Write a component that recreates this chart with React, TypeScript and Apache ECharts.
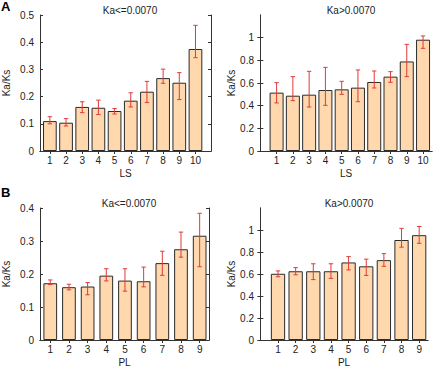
import React, { useEffect, useRef } from "react";
import * as echarts from "echarts";

// Panel A: LS, Ka<=0.0070
const lsCats = [1, 2, 3, 4, 5, 6, 7, 8, 9, 10];
const aLowMean = [0.110, 0.104, 0.162, 0.159, 0.147, 0.185, 0.218, 0.268, 0.251, 0.375];
const aLowErrHi = [0.126, 0.119, 0.181, 0.187, 0.156, 0.214, 0.256, 0.301, 0.288, 0.462];
const aLowErrLo = [0.100, 0.092, 0.141, 0.134, 0.136, 0.162, 0.178, 0.249, 0.189, 0.343];
// Panel A: LS, Ka>0.0070
const aHighMean = [0.515, 0.488, 0.497, 0.538, 0.544, 0.559, 0.609, 0.656, 0.790, 0.982];
const aHighErrHi = [0.603, 0.656, 0.703, 0.738, 0.615, 0.715, 0.706, 0.700, 0.941, 1.015];
const aHighErrLo = [0.424, 0.444, 0.388, 0.403, 0.500, 0.435, 0.556, 0.606, 0.656, 0.906];
// Panel B: PL, Ka<=0.0070
const plCats = [1, 2, 3, 4, 5, 6, 7, 8, 9];
const bLowMean = [0.172, 0.160, 0.162, 0.195, 0.180, 0.178, 0.233, 0.275, 0.316];
const bLowErrHi = [0.182, 0.169, 0.174, 0.216, 0.216, 0.221, 0.269, 0.327, 0.384];
const bLowErrLo = [0.168, 0.152, 0.137, 0.179, 0.148, 0.161, 0.196, 0.251, 0.222];
// Panel B: PL, Ka>0.0070
const bHighMean = [0.602, 0.625, 0.625, 0.625, 0.705, 0.670, 0.726, 0.909, 0.953];
const bHighErrHi = [0.628, 0.658, 0.693, 0.693, 0.758, 0.735, 0.785, 1.015, 1.032];
const bHighErrLo = [0.575, 0.593, 0.549, 0.560, 0.637, 0.587, 0.670, 0.844, 0.879];

const yTicksLow5 = [0, 0.1, 0.2, 0.3, 0.4, 0.5];
const yTicksLow4 = [0, 0.1, 0.2, 0.3, 0.4];
const yTicksHigh = [0, 0.2, 0.4, 0.6, 0.8, 1];

const FONT = "Liberation Sans, Arial, sans-serif";
const AXIS_COLOR = "#333";
const BAR_COLOR = "#FFD8AE";
const ERR_COLOR = "#E03A3A";

interface Panel {
  title: string;
  xName: string;
  cats: number[];
  mean: number[];
  hi: number[];
  lo: number[];
  yMax: number;
  yTicks: number[];
  xMin: number;
  xMax: number;
  grid: { left: number; top: number; width: number; height: number };
  barWidth: number;
  yNameGap: number;
}

const panels: Panel[] = [
  {
    title: "Ka<=0.0070", xName: "LS", cats: lsCats, mean: aLowMean, hi: aLowErrHi, lo: aLowErrLo,
    yMax: 0.5, yTicks: yTicksLow5, xMin: 0.39, xMax: 10.96,
    grid: { left: 39, top: 15, width: 172, height: 136 }, barWidth: 13.7, yNameGap: 29,
  },
  {
    title: "Ka>0.0070", xName: "LS", cats: lsCats, mean: aHighMean, hi: aHighErrHi, lo: aHighErrLo,
    yMax: 1.2, yTicks: yTicksHigh, xMin: -0.02, xMax: 10.55,
    grid: { left: 260, top: 15, width: 172, height: 136 }, barWidth: 14, yNameGap: 23,
  },
  {
    title: "Ka<=0.0070", xName: "PL", cats: plCats, mean: bLowMean, hi: bLowErrHi, lo: bLowErrLo,
    yMax: 0.4, yTicks: yTicksLow4, xMin: 0.45, xMax: 9.5,
    grid: { left: 39, top: 208, width: 170, height: 135 }, barWidth: 13.7, yNameGap: 29,
  },
  {
    title: "Ka>0.0070", xName: "PL", cats: plCats, mean: bHighMean, hi: bHighErrHi, lo: bHighErrLo,
    yMax: 1.2, yTicks: yTicksHigh, xMin: -0.02, xMax: 9.5,
    grid: { left: 260, top: 208, width: 168, height: 135 }, barWidth: 14.3, yNameGap: 23,
  },
];

function buildOption() {
  const grid: any[] = [];
  const xAxis: any[] = [];
  const yAxis: any[] = [];
  const series: any[] = [];
  const title: any[] = [];

  panels.forEach((p, i) => {
    grid.push({ ...p.grid, containLabel: false });
    const axisLine = { show: true, lineStyle: { color: AXIS_COLOR, width: 1 } };
    const tickStyle = { inside: true, length: 3, lineStyle: { color: AXIS_COLOR } };
    xAxis.push({
      type: "value", gridIndex: i, position: "bottom", min: p.xMin, max: p.xMax,
      axisLine,
      axisTick: { ...tickStyle, show: true, customValues: p.cats },
      axisLabel: { show: true, customValues: p.cats, color: "#222", fontSize: 10, fontFamily: FONT, margin: 4 },
      splitLine: { show: false },
      name: p.xName, nameLocation: "middle", nameGap: 17,
      nameTextStyle: { color: "#222", fontSize: 10, fontFamily: FONT },
    });
    xAxis.push({
      type: "value", gridIndex: i, position: "top", min: p.xMin, max: p.xMax,
      axisLine,
      axisTick: { ...tickStyle, show: true, customValues: p.cats },
      axisLabel: { show: false },
      splitLine: { show: false },
    });
    yAxis.push({
      type: "value", gridIndex: i, position: "left", min: 0, max: p.yMax,
      axisLine,
      axisTick: { ...tickStyle, show: true, customValues: p.yTicks },
      axisLabel: {
        show: true, customValues: p.yTicks, color: "#222", fontSize: 10, fontFamily: FONT, margin: 6,
        formatter: (v: number) => (v === 0 ? "0" : String(Math.round(v * 10) / 10)),
      },
      splitLine: { show: false },
      name: "Ka/Ks", nameLocation: "middle", nameGap: p.yNameGap, nameRotate: 90,
      nameTextStyle: { color: "#222", fontSize: 10, fontFamily: FONT },
    });
    yAxis.push({
      type: "value", gridIndex: i, position: "right", min: 0, max: p.yMax,
      axisLine,
      axisTick: { ...tickStyle, show: true, customValues: p.yTicks },
      axisLabel: { show: false },
      splitLine: { show: false },
    });
    series.push({
      type: "bar", xAxisIndex: i * 2, yAxisIndex: i * 2,
      data: p.cats.map((c, k) => [c, p.mean[k]]),
      barWidth: p.barWidth,
      itemStyle: { color: BAR_COLOR, borderColor: "#2a2a2a", borderWidth: 1 },
      z: 2,
    });
    series.push({
      type: "custom", xAxisIndex: i * 2, yAxisIndex: i * 2,
      data: p.cats.map((c, k) => [c, p.lo[k], p.hi[k]]),
      z: 3,
      renderItem: (_params: any, api: any) => {
        const x = api.value(0);
        const lo = api.coord([x, api.value(1)]);
        const hi = api.coord([x, api.value(2)]);
        const cap = 2.2;
        const style = { stroke: ERR_COLOR, lineWidth: 1 };
        return {
          type: "group",
          children: [
            { type: "line", shape: { x1: lo[0], y1: lo[1], x2: hi[0], y2: hi[1] }, style },
            { type: "line", shape: { x1: lo[0] - cap, y1: lo[1], x2: lo[0] + cap, y2: lo[1] }, style },
            { type: "line", shape: { x1: hi[0] - cap, y1: hi[1], x2: hi[0] + cap, y2: hi[1] }, style },
          ],
        };
      },
    });
    title.push({
      text: p.title,
      left: p.grid.left + p.grid.width / 2,
      top: p.grid.top - 15,
      textAlign: "center",
      textStyle: { color: "#222", fontSize: 10, fontWeight: "normal", fontFamily: FONT },
    });
  });

  return {
    animation: false,
    backgroundColor: "#fff",
    title,
    grid,
    xAxis,
    yAxis,
    series,
    graphic: [
      { type: "text", left: 1, top: 0, style: { text: "A", fontSize: 13, fontWeight: "bold", fontFamily: FONT, fill: "#000" } },
      { type: "text", left: 1, top: 186, style: { text: "B", fontSize: 13, fontWeight: "bold", fontFamily: FONT, fill: "#000" } },
    ],
  };
}

export default function App() {
  const ref = useRef<HTMLDivElement>(null);
  useEffect(() => {
    if (!ref.current) return;
    const chart = echarts.init(ref.current, undefined, { renderer: "svg" });
    chart.setOption(buildOption() as any);
    return () => chart.dispose();
  }, []);
  return <div ref={ref} style={{ position: "fixed", left: 0, top: 0, width: 440, height: 368 }} />;
}
